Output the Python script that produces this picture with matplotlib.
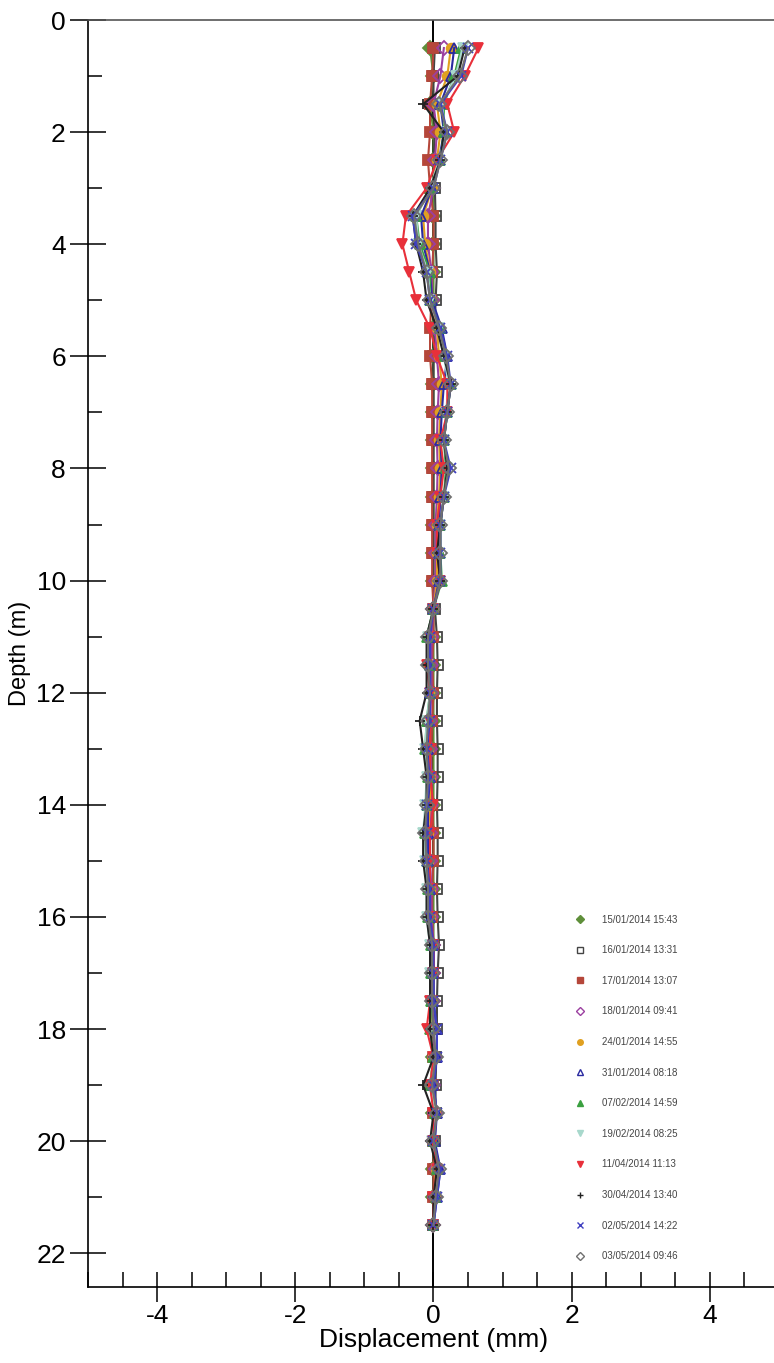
import matplotlib
matplotlib.use("Agg")
import matplotlib.pyplot as plt
from matplotlib.lines import Line2D
from matplotlib.ticker import MultipleLocator

plt.rcParams['font.family'] = ['Liberation Sans', 'DejaVu Sans']
plt.rcParams['axes.unicode_minus'] = False

# Depth of each reading (m)
depth = [0.5, 1.0, 1.5, 2.0, 2.5, 3.0, 3.5, 4.0, 4.5, 5.0,
         5.5, 6.0, 6.5, 7.0, 7.5, 8.0, 8.5, 9.0, 9.5, 10.0,
         10.5, 11.0, 11.5, 12.0, 12.5, 13.0, 13.5, 14.0, 14.5, 15.0,
         15.5, 16.0, 16.5, 17.0, 17.5, 18.0, 18.5, 19.0, 19.5, 20.0,
         20.5, 21.0, 21.5]

labels = ["15/01/2014 15:43", "16/01/2014 13:31", "17/01/2014 13:07",
          "18/01/2014 09:41", "24/01/2014 14:55", "31/01/2014 08:18",
          "07/02/2014 14:59", "19/02/2014 08:25", "11/04/2014 11:13",
          "30/04/2014 13:40", "02/05/2014 14:22", "03/05/2014 09:46"]

# Displacement (mm) per survey
s15_01 = [-0.05, 0.0, -0.05, 0.0, 0.0, 0.0, 0.0, 0.0, 0.0, 0.0,
          0.0, 0.0, 0.0, 0.0, 0.0, 0.0, 0.0, 0.0, 0.0, 0.0,
          0.0, 0.0, 0.0, 0.0, 0.0, 0.0, 0.0, 0.0, 0.0, 0.0,
          0.0, 0.0, 0.0, 0.0, 0.0, 0.0, 0.0, 0.0, 0.0, 0.0,
          0.0, 0.0, 0.0]
s16_01 = [0.02, 0.0, 0.0, 0.02, 0.0, 0.02, 0.03, 0.03, 0.05, 0.03,
          0.02, 0.0, 0.0, 0.0, 0.0, 0.0, 0.0, 0.0, 0.0, 0.0,
          0.02, 0.05, 0.06, 0.05, 0.05, 0.06, 0.06, 0.05, 0.06, 0.06,
          0.05, 0.06, 0.08, 0.06, 0.05, 0.05, 0.04, 0.03, 0.03, 0.02,
          0.02, 0.02, 0.0]
s17_01 = [0.0, -0.02, -0.05, -0.05, -0.08, -0.05, 0.0, 0.0, -0.02, -0.03,
          -0.05, -0.05, -0.02, -0.02, -0.02, -0.02, -0.02, -0.02, -0.02, -0.02,
          0.0, 0.0, -0.02, 0.0, -0.02, -0.03, -0.03, -0.02, 0.0, 0.0,
          -0.02, -0.02, 0.0, 0.0, -0.02, 0.0, 0.0, 0.0, 0.0, 0.0,
          0.0, 0.0, 0.0]
s18_01 = [0.15, 0.1, 0.0, 0.05, 0.02, 0.0, -0.08, -0.08, -0.03, -0.02,
          0.02, 0.05, 0.08, 0.06, 0.05, 0.06, 0.05, 0.03, 0.03, 0.03,
          0.0, -0.03, -0.03, -0.03, -0.05, -0.05, -0.03, -0.03, -0.05, -0.05,
          -0.03, -0.03, 0.0, 0.0, 0.0, 0.0, 0.02, 0.0, 0.02, 0.0,
          0.03, 0.02, 0.0]
s24_01 = [0.25, 0.2, 0.05, 0.1, 0.05, -0.02, -0.15, -0.12, -0.05, -0.03,
          0.05, 0.08, 0.12, 0.1, 0.08, 0.1, 0.08, 0.05, 0.05, 0.05,
          0.0, -0.05, -0.08, -0.05, -0.08, -0.08, -0.05, -0.05, -0.08, -0.08,
          -0.05, -0.05, -0.02, -0.02, -0.02, -0.05, 0.0, -0.05, 0.02, 0.0,
          0.03, 0.02, 0.0]
s31_01 = [0.3, 0.25, 0.1, 0.15, 0.08, -0.02, -0.18, -0.15, -0.05, -0.02,
          0.12, 0.2, 0.15, 0.12, 0.1, 0.12, 0.1, 0.08, 0.08, 0.08,
          0.0, -0.05, -0.05, -0.05, -0.08, -0.08, -0.05, -0.08, -0.08, -0.08,
          -0.05, -0.05, 0.0, 0.0, 0.0, 0.05, 0.05, 0.0, 0.05, 0.02,
          0.1, 0.05, 0.0]
s07_02 = [0.4, 0.3, 0.15, 0.15, 0.1, -0.05, -0.25, -0.2, -0.05, -0.05,
          0.1, 0.15, 0.25, 0.2, 0.15, 0.18, 0.15, 0.1, 0.1, 0.12,
          0.0, -0.1, -0.05, -0.05, -0.1, -0.12, -0.08, -0.1, -0.12, -0.1,
          -0.08, -0.08, -0.03, -0.03, -0.03, -0.05, 0.0, -0.05, 0.02, 0.0,
          0.05, 0.03, 0.0]
s19_02 = [0.42, 0.32, 0.12, 0.18, 0.08, -0.05, -0.25, -0.22, -0.08, -0.05,
          0.08, 0.15, 0.22, 0.18, 0.15, 0.2, 0.15, 0.1, 0.08, 0.1,
          0.0, -0.08, -0.08, -0.05, -0.1, -0.12, -0.1, -0.12, -0.15, -0.12,
          -0.1, -0.1, -0.05, -0.05, -0.05, -0.05, 0.0, -0.05, 0.02, -0.02,
          0.05, 0.02, 0.0]
s11_04 = [0.65, 0.45, 0.2, 0.3, 0.05, -0.1, -0.4, -0.45, -0.35, -0.25,
          -0.05, 0.05, 0.2, 0.2, 0.1, 0.15, 0.1, 0.05, 0.05, 0.1,
          0.0, -0.05, -0.1, -0.05, -0.05, -0.05, -0.05, 0.0, -0.05, -0.05,
          -0.05, -0.05, 0.0, 0.0, -0.05, -0.1, 0.0, -0.05, 0.0, 0.0,
          0.05, 0.0, 0.0]
s30_04 = [0.45, 0.35, -0.15, 0.15, 0.1, -0.05, -0.3, -0.25, -0.15, -0.1,
          0.05, 0.15, 0.25, 0.2, 0.15, 0.2, 0.15, 0.1, 0.05, 0.1,
          0.0, -0.1, -0.1, -0.1, -0.2, -0.15, -0.1, -0.1, -0.15, -0.15,
          -0.1, -0.1, -0.05, -0.05, -0.05, -0.05, 0.0, -0.15, 0.0, -0.05,
          0.05, 0.0, 0.0]
s02_05 = [0.5, 0.4, 0.1, 0.2, 0.1, 0.0, -0.3, -0.25, -0.1, -0.05,
          0.1, 0.2, 0.25, 0.2, 0.15, 0.25, 0.15, 0.1, 0.1, 0.1,
          0.0, -0.05, -0.05, -0.05, -0.05, -0.1, -0.05, -0.1, -0.1, -0.1,
          -0.05, -0.05, 0.0, 0.0, 0.0, 0.05, 0.05, 0.0, 0.05, 0.0,
          0.1, 0.05, 0.0]
s03_05 = [0.5, 0.38, 0.08, 0.2, 0.1, 0.0, -0.28, -0.22, -0.1, -0.05,
          0.08, 0.18, 0.25, 0.2, 0.15, 0.22, 0.15, 0.1, 0.1, 0.1,
          0.0, -0.08, -0.08, -0.05, -0.08, -0.1, -0.08, -0.1, -0.12, -0.1,
          -0.08, -0.08, -0.02, -0.02, -0.02, 0.0, 0.03, -0.02, 0.05, 0.0,
          0.08, 0.03, 0.0]

series = [s15_01, s16_01, s17_01, s18_01, s24_01, s31_01,
          s07_02, s19_02, s11_04, s30_04, s02_05, s03_05]

# marker, colour, filled
styles = [('D', '#5f8f3a', True),
          ('s', '#444444', False),
          ('s', '#b5473a', True),
          ('D', '#9b3fa0', False),
          ('o', '#e0a020', True),
          ('^', '#2a2aa0', False),
          ('^', '#3aa040', True),
          ('v', '#a8d8cc', True),
          ('v', '#e8303a', True),
          ('+', '#222222', True),
          ('x', '#4040c0', True),
          ('D', '#707070', False)]

fig = plt.figure(figsize=(7.74, 13.63), dpi=100)
ax = fig.add_axes([88 / 774, 1 - 1287 / 1363, 691 / 774, 1267 / 1363])

ax.axvline(0, color='black', lw=1.4, zorder=1)

handles = []
for vals, lab, (mk, col, filled) in zip(series, labels, styles):
    face = col if filled else 'none'
    ax.plot(vals, depth, color=col, lw=1.5, marker=mk, markersize=7,
            markerfacecolor=face, markeredgecolor=col, markeredgewidth=1.3, zorder=2)
    handles.append(Line2D([], [], ls='none', marker=mk, markersize=4,
                          markerfacecolor=face, markeredgecolor=col,
                          markeredgewidth=1.0, label=lab))

ax.set_xlim(-5, 5)
ax.set_ylim(22.6, 0)

ax.xaxis.set_major_locator(MultipleLocator(2))
ax.xaxis.set_minor_locator(MultipleLocator(0.5))
ax.yaxis.set_major_locator(MultipleLocator(2))
ax.yaxis.set_minor_locator(MultipleLocator(1))

ax.tick_params(axis='x', which='major', direction='inout', length=22, width=1.1, labelsize=19, pad=1)
ax.tick_params(axis='x', which='minor', direction='in', length=11, width=1.1)
ax.tick_params(axis='y', which='major', direction='inout', length=26, width=1.1, labelsize=19, pad=3)
ax.tick_params(axis='y', which='minor', direction='in', length=10, width=1.1)

ax.spines['right'].set_visible(False)
for s in ['left', 'bottom', 'top']:
    ax.spines[s].set_linewidth(1.2)
ax.spines['top'].set_color('#555555')

ax.set_xlabel("Displacement (mm)", fontsize=19, labelpad=0)
ax.set_ylabel("Depth (m)", fontsize=17, labelpad=4)

leg = ax.legend(handles=handles, loc='upper left', bbox_to_anchor=(0.70, 0.297),
                frameon=False, fontsize=7, labelspacing=2.12, handletextpad=1.7,
                handlelength=1.0, borderaxespad=0)
for t in leg.get_texts():
    t.set_color('#444444')

fig.savefig("out.png", dpi=100)
